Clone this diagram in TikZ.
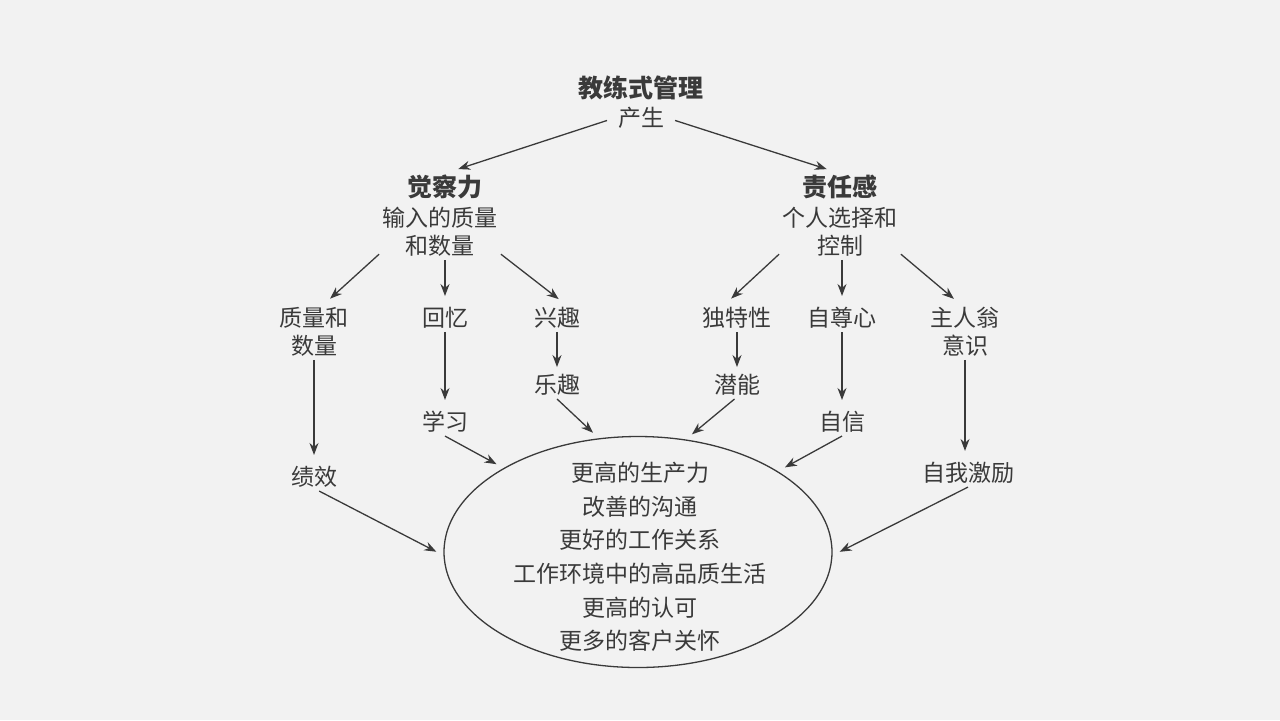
\documentclass[tikz,border=0pt]{standalone}
\usepackage{fontspec}
\setmainfont{Noto Sans CJK SC}
\usepackage{tikz}
\usetikzlibrary{arrows.meta,shapes.geometric}
\definecolor{paperbg}{HTML}{F2F2F2}
\definecolor{inkgray}{HTML}{3A3A3A}

\begin{document}
\begin{tikzpicture}[x=0.5pt,y=-0.5pt,
  txt/.style={text=inkgray,align=center,inner sep=1.5pt,font=\fontsize{11.5}{14}\selectfont},
  hd/.style={txt,font=\fontsize{12.5}{15}\selectfont\bfseries},
  arr/.style={-{Stealth[length=6pt,width=4.5pt]},line width=0.65pt,color=inkgray,shorten >=4pt}]
\fill[paperbg] (0,0) rectangle (1280,720);
\useasboundingbox (0,0) rectangle (1280,720);
% top
\node[hd] (top) at (641,88) {教练式管理};
\node[txt] (gen) at (641,118) {产生};
\node[hd] (aw) at (445,187) {觉察力};
\node[txt] (awd) at (440,232) {输入的质量\\和数量};
\node[hd] (rs) at (840,187) {责任感};
\node[txt] (rsd) at (840,232) {个人选择和\\控制};
% second row
\node[txt] (qq) at (314,332) {质量和\\数量};
\node[txt] (rec) at (445,318) {回忆};
\node[txt] (intr) at (557,318) {兴趣};
\node[txt] (uniq) at (737,318) {独特性};
\node[txt] (esteem) at (842,318) {自尊心};
\node[txt] (own) at (965,332) {主人翁\\意识};
% third row
\node[txt] (learn) at (445,422) {学习};
\node[txt] (fun) at (557,385) {乐趣};
\node[txt] (pot) at (737,385) {潜能};
\node[txt] (conf) at (842,422) {自信};
\node[txt] (perf) at (314,477) {绩效};
\node[txt] (motiv) at (968,473) {自我激励};
% outcome
\node[draw=inkgray,line width=0.65pt,ellipse,minimum width=194pt,minimum height=115.5pt,inner sep=0pt] (goal) at (638,552) {};
\node[txt,font=\fontsize{11.5}{16.8}\selectfont] (goaltxt) at (640,557) {更高的生产力\\改善的沟通\\更好的工作关系\\工作环境中的高品质生活\\更高的认可\\更多的客户关怀};
% arrows
\draw[arr,shorten <=4pt] (gen.west) -- (aw.70);
\draw[arr,shorten <=4pt] (gen.east) -- (rs.110);
\draw[arr] (awd.200) -- (qq.70);
\draw[arr] (rec.north |- awd.south) -- (rec.north);
\draw[arr] (awd.-20) -- (intr.60);
\draw[arr] (rsd.200) -- (uniq.130);
\draw[arr] (esteem.north |- rsd.south) -- (esteem.north);
\draw[arr] (rsd.-20) -- (own.100);
\draw[arr] (qq.south) -- (perf.north);
\draw[arr] (rec.south) -- (learn.north);
\draw[arr,shorten >=2pt] (intr.south) -- (fun.north);
\draw[arr,shorten >=2pt] (uniq.south) -- (pot.north);
\draw[arr] (esteem.south) -- (conf.north);
\draw[arr] (own.south) -- (own.south |- motiv.north);
\draw[arr] (learn.south) -- (goal.148);
\draw[arr] (fun.south) -- (goal.109);
\draw[arr] (pot.-100) -- (goal.67);
\draw[arr] (conf.south) -- (goal.30);
\draw[arr] (perf.-70) -- (goal.181);
\draw[arr] (motiv.south) -- (goal.-1);
\end{tikzpicture}
\end{document}
